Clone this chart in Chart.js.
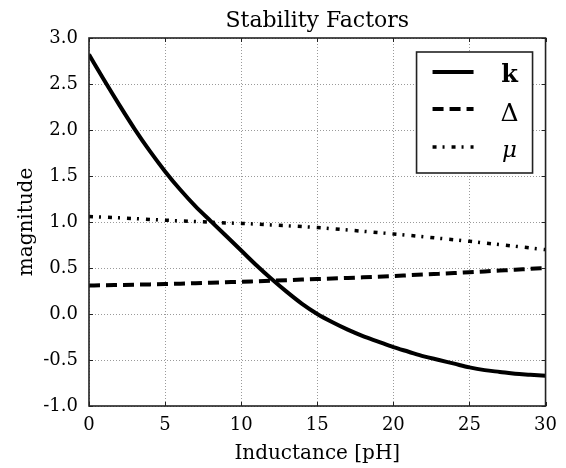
<!DOCTYPE html>
<html>
<head>
<meta charset="utf-8">
<script src="https://cdn.jsdelivr.net/npm/chart.js@4/dist/chart.umd.min.js"></script>
<style>
  html, body { margin: 0; padding: 0; background: #fff; }
  #c { display: block; }
</style>
</head>
<body>
<canvas id="c" width="566" height="468"></canvas>
<script>
// ---- data ----
const inductance = [0,1,2,3,4,5,6,7,8,9,10,11,12,13,14,15,16,17,18,19,20,21,22,23,24,25,26,27,28,29,30];
const kValues = [2.82,2.54,2.27,2.01,1.77,1.55,1.35,1.17,1.01,0.85,0.69,0.53,0.38,0.24,0.11,0.00,
                 -0.09,-0.17,-0.24,-0.30,-0.36,-0.41,-0.46,-0.50,-0.54,-0.58,-0.61,-0.63,-0.65,-0.66,-0.67];
const deltaValues = [0.31,0.312,0.315,0.318,0.322,0.326,0.33,0.335,0.34,0.345,0.35,0.356,0.362,0.368,0.374,0.38,
                     0.386,0.392,0.399,0.406,0.413,0.421,0.429,0.437,0.445,0.454,0.463,0.472,0.481,0.491,0.50];
const muValues = [1.06,1.053,1.045,1.037,1.028,1.02,1.012,1.005,0.998,0.99,0.985,0.977,0.968,0.959,0.95,0.94,
                  0.927,0.913,0.899,0.885,0.87,0.855,0.839,0.823,0.807,0.79,0.772,0.754,0.736,0.718,0.70];
const seriesNames = ['k', 'Δ', 'μ'];
const xTicks = [0,5,10,15,20,25,30];
const yTicks = [-1.0,-0.5,0.0,0.5,1.0,1.5,2.0,2.5,3.0];
const chartTitle = 'Stability Factors';
const xTitle = 'Inductance [pH]';
const yTitle = 'magnitude';

const FONT = 'DejaVu Serif';
const INK = '#000';

const styles = [
  { width: 4, dash: [] },
  { width: 4, dash: [11, 6] },
  { width: 3.5, dash: [4, 6, 2, 7] }
];

function pts(ys) { return inductance.map((x, i) => ({ x: x, y: ys[i] })); }

const seriesData = [kValues, deltaValues, muValues];
const datasets = seriesData.map((ys, i) => ({
  label: seriesNames[i],
  data: pts(ys),
  borderColor: '#000',
  borderWidth: styles[i].width,
  borderDash: styles[i].dash,
  borderCapStyle: 'butt',
  pointRadius: 0,
  fill: false,
  cubicInterpolationMode: 'monotone'
}));

const framePlugin = {
  id: 'frameAndLegend',
  afterDatasetsDraw(chart) {
    const { ctx, chartArea: a, scales } = chart;
    ctx.save();
    // inward tick marks
    ctx.strokeStyle = '#222';
    ctx.lineWidth = 1;
    ctx.setLineDash([]);
    const tl = 4;
    xTicks.forEach(v => {
      const px = Math.round(scales.x.getPixelForValue(v)) + 0.5;
      ctx.beginPath();
      ctx.moveTo(px, a.bottom); ctx.lineTo(px, a.bottom - tl);
      ctx.moveTo(px, a.top); ctx.lineTo(px, a.top + tl);
      ctx.stroke();
    });
    yTicks.forEach(v => {
      const py = Math.round(scales.y.getPixelForValue(v)) + 0.5;
      ctx.beginPath();
      ctx.moveTo(a.left, py); ctx.lineTo(a.left + tl, py);
      ctx.moveTo(a.right, py); ctx.lineTo(a.right - tl, py);
      ctx.stroke();
    });
    // frame
    ctx.lineWidth = 1.6;
    ctx.strokeStyle = '#222';
    ctx.strokeRect(a.left, a.top, a.right - a.left, a.bottom - a.top);

    // legend
    const bx = a.right - 129, by = a.top + 14, bw = 116, bh = 121;
    ctx.fillStyle = '#fff';
    ctx.fillRect(bx, by, bw, bh);
    ctx.lineWidth = 1.6;
    ctx.strokeStyle = '#222';
    ctx.strokeRect(bx, by, bw, bh);
    const rows = [20, 57, 95];
    const labelFonts = ['bold 24px "' + FONT + '"', '25px "' + FONT + '"', 'italic 23px "' + FONT + '"'];
    const baselines = [30, 69, 105];
    rows.forEach((ry, i) => {
      ctx.beginPath();
      ctx.lineWidth = styles[i].width;
      ctx.setLineDash(styles[i].dash);
      ctx.lineCap = 'butt';
      ctx.strokeStyle = '#000';
      ctx.moveTo(bx + 16, by + ry);
      ctx.lineTo(bx + 57, by + ry);
      ctx.stroke();
      ctx.setLineDash([]);
      ctx.fillStyle = INK;
      ctx.font = labelFonts[i];
      ctx.textAlign = 'center';
      ctx.textBaseline = 'alphabetic';
      ctx.fillText(seriesNames[i], bx + 93, by + baselines[i]);
    });
    ctx.restore();
  }
};

new Chart(document.getElementById('c'), {
  type: 'line',
  data: { datasets: datasets },
  plugins: [framePlugin],
  options: {
    responsive: false,
    animation: false,
    events: [],
    layout: { padding: { left: 0, right: 16, top: 0, bottom: 0 } },
    plugins: {
      legend: { display: false },
      tooltip: { enabled: false },
      title: {
        display: true,
        fullSize: false,
        text: chartTitle,
        color: INK,
        font: { family: FONT, size: 22, weight: 'normal', lineHeight: 1.2 },
        padding: { top: 8, bottom: 3.6 }
      }
    },
    scales: {
      x: {
        type: 'linear',
        min: 0, max: 30,
        afterBuildTicks(scale) { scale.ticks = xTicks.map(v => ({ value: v })); },
        afterFit(scale) { scale.height = 62; },
        ticks: {
          color: INK,
          font: { family: FONT, size: 18 },
          padding: 9,
          maxRotation: 0,
          callback: v => String(v)
        },
        grid: { color: '#9a9a9a', lineWidth: 1, drawTicks: false },
        border: { display: false, dash: [1, 2] },
        title: {
          display: true, text: xTitle, color: INK,
          font: { family: FONT, size: 20, lineHeight: 1.2 },
          padding: { top: 0, bottom: 2 }
        }
      },
      y: {
        type: 'linear',
        min: -1, max: 3,
        afterBuildTicks(scale) { scale.ticks = yTicks.map(v => ({ value: v })); },
        afterFit(scale) { scale.width = 89; },
        ticks: {
          color: INK,
          font: { family: FONT, size: 18 },
          padding: 11,
          callback: v => Number(v).toFixed(1)
        },
        grid: { color: '#9a9a9a', lineWidth: 1, drawTicks: false },
        border: { display: false, dash: [1, 2] },
        title: {
          display: true, text: yTitle, color: INK,
          font: { family: FONT, size: 20, lineHeight: 1.2 },
          padding: { top: 15, bottom: 0 }
        }
      }
    }
  }
});
</script>
</body>
</html>
